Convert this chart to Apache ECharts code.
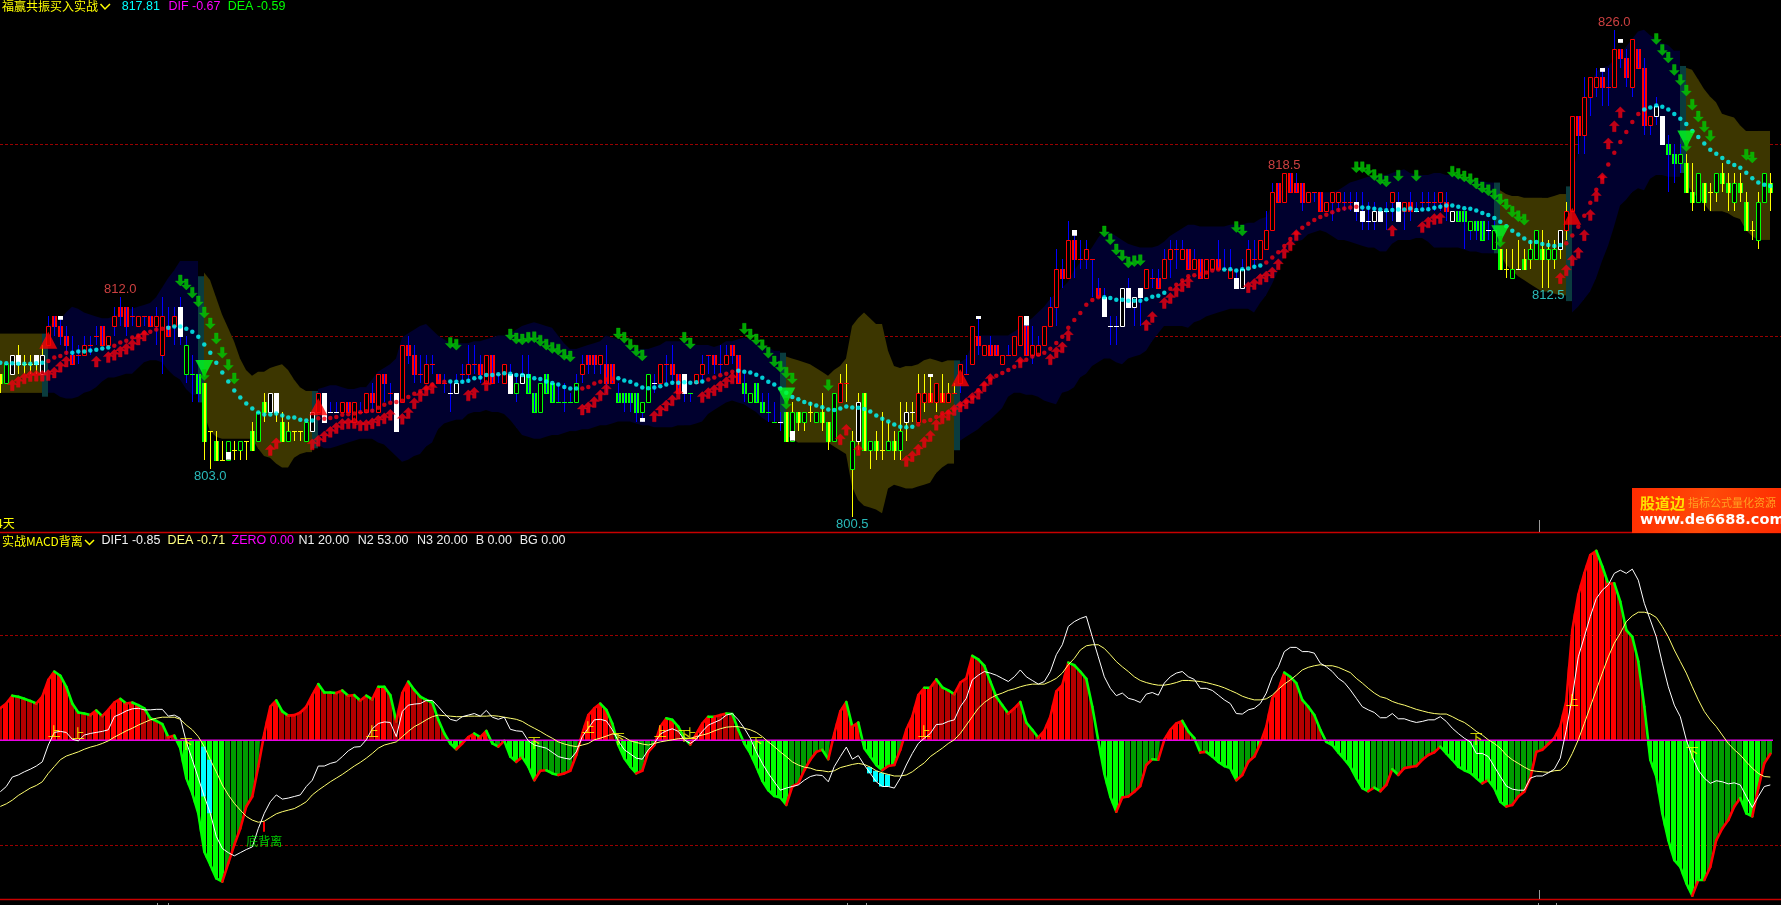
<!DOCTYPE html>
<html><head><meta charset="utf-8">
<style>html,body{margin:0;padding:0;background:#000;overflow:hidden}#c{width:1781px;height:905px}</style>
<script src="https://cdn.jsdelivr.net/npm/echarts@6/dist/echarts.min.js"></script>
</head><body><div id="c"></div>
<script>
const bodyTop=[808,808.5,809,809,808.5,808.5,809,809,810.5,811,
810.5,810,809,809,809.5,809.5,810,810.5,810,811,
811.5,811.5,811,811,811,811,811,811,810.5,811,
811.5,809.5,808,808,807.5,805,804.5,803.5,804.5,804,
804.5,804.5,805,806,806.5,807,807,805.5,805,805,
805,805.5,806,807,807,806,806,806.5,806.5,806.5,
806,807,807,808,808,807,807,809.5,809.5,809,
808,808.5,808.5,808,807.5,807,807.5,808,808.5,808.5,
808.5,809,809,808,808.5,808,807.5,808,808,807,
807.5,808,807.5,806.5,806.5,806.5,807.5,808.5,809,809,
809,808.5,808.5,807,807,807,807,806.5,808,807.5,
808.5,808.5,808.5,808,808,807,808,808.5,809,809,
808.5,809,809.5,809,807.5,807,807.5,806.5,806,805.5,
805.5,806,806,806,806,806,806,806,805.5,807,
807.5,807.5,804.5,806.5,807,804.5,804.5,804,804.5,804.5,
805,806,806,807,807,807,807.5,807,807,807,
808.5,808,810.5,810,809.5,809.5,809.5,809,809,810,
811,810.5,809.5,809.5,810.5,811.5,813.5,813.5,815,815,
814,814.5,814,812.5,812,810.5,810.5,812.5,812.5,812,
812.5,813.5,813,813,814,814.5,814.5,814.5,814.5,814,
814,814,814,814,813.5,813.5,813,813.5,814.5,814,
815,815.5,817.5,818,818.5,818.5,818,818,817.5,817.5,
817.5,817,817.5,817.5,817,817,817,816.5,816,816.5,
816.5,816.5,817.5,817,817,817,816.5,817,817,817,
817.5,817,816.5,816.5,816.5,816,816,816,815.5,815.5,
814.5,813.5,813.5,813.5,814,814.5,815.5,814.5,814.5,814.5,
815.5,816.5,821.5,821.5,822.5,823.5,823.5,823.5,823,825,
825,824.5,825.5,825,824,821.5,822,821.5,820,819.5,
819.5,819,817.5,818.5,818,817.5,818.5,818.5,818,818,
818,817,815.5,817,818.5,818];
const bodyBottom=[807.5,807.5,808,808.5,808.5,808.5,808.5,808,809.5,810.5,
810,809.5,808.5,809,809,809.5,810,809.5,809.5,810.5,
811,810.5,811,810.5,811,810.5,810.5,809,810,810.5,
810,808,808,807,804.5,805,803.5,803.5,803.5,804,
804,804.5,804,804.5,806,806,806,804.5,804.5,805,
805,804.5,805,806,805.5,806,806,806,806,805.5,
806,806,806.5,806,807.5,807,805,806.5,809,808,
808,807.5,808.5,807.5,807.5,807,807,808,808,808.5,
808,807.5,807.5,808,807.5,807,807,807.5,807,806,
806,807,806.5,806.5,806.5,806.5,806.5,808,808.5,808.5,
808.5,807.5,807.5,806.5,806.5,806.5,806,806,806.5,807.5,
807.5,808.5,808,807,807,807,807.5,808,809,808.5,
808.5,808.5,809,807.5,807,806.5,806.5,806,806,805.5,
805.5,804.5,804.5,805.5,805.5,806,805.5,805.5,804.5,804.5,
806.5,807.5,803,804.5,804,804,804,804,804,804,
804,805.5,806,805.5,806.5,806.5,806.5,806.5,806.5,807,
807.5,808,808.5,809.5,809,809,809,808.5,809,809,
809.5,809,809,809,809.5,810.5,811.5,813,813,814,
814,814,814,812,811,810.5,810.5,810.5,811.5,811.5,
812,812.5,813,812.5,813,814,814.5,814,813.5,813.5,
813,813,813.5,813.5,813.5,813,812.5,812.5,813.5,814,
814,814.5,815.5,817,817,817.5,817.5,817,817,817.5,
816.5,816.5,817,817,817,817,816.5,816,816,816,
816,816.5,817,816,816.5,816.5,816.5,817,817,817,
817,816.5,816,816,816,815.5,815.5,815,815.5,814.5,
813.5,813.5,813,813.5,813.5,814,814,814,814,814,
814.5,815.5,816.5,820.5,820.5,822.5,823,823,823,823,
824.5,823.5,823,824,821,821,821.5,820,819.5,819,
819,817.5,817,817,817,817.5,817.5,818,817.5,817,
817.5,815.5,815.5,815,817,817.5];
const wickHigh=[808,808.5,809,809.5,809,809,809,809.5,811,811,
811,810.5,810,809.5,810,810,810.5,810.5,810,811.5,
812,811.5,811.5,811,811,811,811.5,812,811.5,811.5,
812,810,809,808,807.5,805,805,804.5,804.5,804.5,
804.5,804.5,805.5,806,807,807,807,806,805.5,805,
805,805.5,806,807,807,806.5,806.5,806.5,806.5,806.5,
806.5,807,807.5,808,808,807.5,807,809.5,810,809.5,
809,809,809,808,808,807.5,808,808.5,809.5,809.5,
809,809,809,808,808.5,808.5,808,809,809,807,
807.5,808,807.5,807.5,807.5,807,808,809,809,809,
809,809.5,808.5,807.5,807,807,807,806.5,808,808,
808.5,809,809.5,808,808,807,808,809,809,809,
809.5,809.5,809.5,809,808,807,807.5,807,807,806.5,
806,806,806.5,806,806,806.5,806,807,805.5,807,
808,808.5,805,807,807,804.5,805,806,805.5,805,
806.5,806.5,806.5,808,808,808,807.5,808,807.5,807.5,
808.5,809,810.5,811,809.5,810,809.5,809,809.5,810,
811,811,810.5,810,810.5,812,814.5,814,816,815.5,
815,815,814,813,812.5,811,811,812.5,813,812,
812.5,813.5,813.5,813.5,814.5,815,815,815,814.5,814.5,
814,814,814,815,814.5,814.5,813.5,814,815,815,
815,816.5,818,818,818.5,818.5,818.5,818,817.5,817.5,
817.5,817,817.5,817.5,817.5,817.5,817.5,817.5,817,817,
816.5,817,817.5,817.5,817,817.5,817,817.5,817.5,817.5,
817.5,817.5,816.5,816.5,816.5,816,816,816,816,816,
814.5,814.5,814.5,815,814.5,815,815.5,815.5,815,815,
815.5,817,821.5,821.5,823.5,823.5,824,824,824,826,
825,825,825.5,825,824.5,821.5,822.5,821.5,820.5,820,
820,819.5,819,818.5,818,818,818.5,819,818.5,818.5,
818.5,817.5,816,817.5,818.5,818.5];
const wickLow=[807,807.5,808,808,808,808,808,808,809.5,810,
809.5,809,808.5,808.5,809,809,809.5,809.5,809.5,810,
810.5,810,810.5,810.5,810.5,810.5,809.5,808,810,809.5,
809.5,807.5,806.5,806.5,803.5,803,803.5,803.5,803.5,803.5,
803.5,803.5,804,804.5,805.5,806,805.5,804.5,804.5,804.5,
804.5,804.5,805,806,805.5,806,806,806,806,805.5,
806,806,806,806,806.5,806.5,805,806.5,808.5,807.5,
807.5,807.5,808,807.5,807,806,807,807.5,807.5,808,
807.5,807.5,807.5,807.5,807.5,807,806.5,807.5,807,806,
806,807,806.5,806.5,806,806.5,806.5,807.5,808,808,
808,807,807.5,806.5,806,806,805.5,805.5,806.5,807,
807.5,807.5,807.5,807,806.5,806.5,807.5,807.5,808,808,
808,808.5,808.5,807.5,806.5,806.5,806.5,806,805.5,805.5,
805,804.5,804.5,805,805,805.5,805.5,805,804,804.5,
806.5,806.5,800.5,804,804,803,803.5,803.5,804.5,803.5,
803.5,804.5,805.5,805.5,806,806.5,806,806.5,806.5,807,
807,808,808.5,809,809,809,809,808.5,809,809,
809.5,809,808.5,809,809.5,810.5,810.5,812.5,813,813,
813.5,813.5,812,812,811,809.5,809.5,810.5,811.5,810.5,
810.5,812.5,812.5,812.5,813,813,813.5,814,813.5,813.5,
813,813,813.5,813.5,813.5,813,812.5,812.5,813.5,813.5,
814,814.5,815.5,817,817,817.5,817.5,816.5,817,817,
816.5,816.5,816,816.5,816.5,816.5,816,815.5,815.5,815.5,
816,815.5,816,816,815.5,816,816.5,816.5,816.5,816.5,
816.5,816,816,816,814.5,815,815,815,815,814.5,
813.5,813,813,813.5,813.5,813.5,814,812.5,812.5,813.5,
814,815,816.5,819.5,819.5,821.5,822.5,822,822,823,
824,823,822.5,824,820.5,820.5,821,820,817.5,818,
818.5,817.5,816.5,817,816.5,816.5,817,817.5,816.5,816.5,
817,815.5,815,814.5,817,816.5];
const bodyKinds="GgwWyyWwrR"+"RRRrrrrRrr"+"RRrrrRrrRr"+"WggGGyGygy"+"gyGgGwWGgy"+"ygwrWwwrRr"+"rrRrRrWrRR"+"rrrRrwwrrr"+"RrRrrWgwGG"+"gGGggggrRR"+
"rRRGGGGggw"+"rrRRWgrrrR"+"rrRRGgGGgg"+"wGgGgygGGg"+"rrgwGgGygG"+"gwwrrRrRrr"+"rrrRrRRrrr"+"rRrrrrrRrR"+"rrrRWwwwWw"+"WrrRrrrrRr"+
"RrrRrrWwrr"+"rrrRrRRRrr"+"RrrrrrWWww"+"WwrWrRwrrr"+"rRwGGgGGwg"+"GygwGggGgg"+"wrrRrrrRrr"+"RRrRRrwWGG"+"gGGgGygGGg"+"GGyggG";
const yellowWickRuns=[[0,7],[34,52],[131,159],[250,261],[281,295]];
const whiteMarks=[[10,811,810.8],[38,803.9,803.5],[107,805.7,805.5],[132,805,804.5],[155,808,807.85],[163,811,810.85],[171,811,810.5],[179,815.5,815.2],[267,824,823.8],[270,825.5,825.3]];

const bandUpper=[810.1,810.1,810.1,810.1,810.1,810.1,810.1,810.1,810.5,810.7,
810.8,811.2,811.5,811.4,811.2,811.1,811,810.9,810.9,811,
811.2,811.4,811.4,811.5,811.6,811.7,812,812.5,813,813.4,
813.9,813.9,813.9,813.1,813.3,812.9,812,811.1,810.4,809.7,
808.8,808.2,807.9,808.1,808.1,808.3,808.4,808.5,808.2,807.7,
807.3,807.1,807.1,807.2,807.3,807.4,807.4,807.3,807.2,807.2,
807.3,807.3,807.7,808.1,808.3,808.5,808.8,809.9,810.1,810.3,
810.5,810.6,810.3,810,809.8,809.6,809.6,809.6,809.6,809.7,
809.7,809.8,809.9,810,810,810.1,810.3,810.5,810.6,810.7,
810.6,810.5,810.4,810,809.6,809.3,809.3,809.4,809.5,809.6,
809.7,810,809.9,809.8,809.7,809.4,809.3,809.3,809.3,809.4,
809.5,809.7,809.7,809.7,809.7,809.6,809.5,809.5,809.5,809.4,
809.5,809.7,809.7,809.8,809.9,809.8,809.7,809.5,809.4,809.2,
809.1,808.9,808.8,808.7,808.6,808.5,808.3,808.1,807.9,808.2,
808.4,808.8,810.5,810.9,811.2,810.9,810.6,810.6,809.2,808.4,
808.3,808.4,808.4,808.5,808.7,808.8,808.7,808.6,808.7,808.7,
808.6,808.8,809.5,810,810,810,810,810,810,810.2,
810.4,810.7,810.9,811.2,811.5,811.9,812.2,812.5,812.8,813.4,
813.8,814.2,814.6,815.1,815.5,815.4,815.2,815,814.8,814.7,
814.6,814.6,814.6,814.7,814.9,815.2,815.4,815.6,815.8,815.8,
815.7,815.7,815.7,815.7,815.7,815.8,815.8,815.8,815.9,815.9,
816.1,816.2,816.8,817.6,817.6,817.6,817.6,817.6,817.5,817.5,
817.5,817.5,817.5,817.6,817.8,818,818.1,818.2,818.3,818.3,
818.4,818.4,818.5,818.6,818.7,818.5,818.4,818.4,818.4,818.5,
818.5,818.4,818.4,818.3,818.2,818.2,818.1,818.1,818,818,
817.6,817.4,817.3,817.3,817.2,817.2,817.2,817.2,817.2,817.3,
817.4,817.8,818.5,819.6,821.5,823,823.8,824,824.1,824.4,
824.7,825.1,825.5,825.9,826,825.7,825.5,825.3,825.2,824.9,
824.1,824,823.9,823.4,822.9,822.5,822.2,821.6,821.5,821.4,
821,820.7,820.7,820.7,820.7];
const bandLower=[807,807,807,807,807,807,807,806.8,807,807,
806.8,806.7,806.7,806.8,807,807.1,807.3,807.6,807.8,807.8,
807.9,808,808,808.3,808.6,808.7,808.7,808.6,808.2,807.9,
807.7,807.2,806.9,806.5,805.9,805,804.7,804.6,804.6,804.6,
804.6,804.6,804.6,804.1,803.7,803.6,803.3,803.1,803.1,803.6,
803.8,803.9,804.1,804.3,804.1,804.1,804.2,804.3,804.4,804.5,
804.6,804.6,804.6,804.4,804.3,804,803.7,803.4,803.5,803.7,
803.8,804.2,804.4,805.1,805.4,805.5,805.6,805.6,805.9,806,
806,806.1,806,806,805.9,805.6,805.2,804.8,804.7,804.6,
804.6,804.7,804.8,804.8,804.9,805,805,805.1,805.1,805.2,
805.3,805.3,805.4,805.5,805.5,805.5,805.4,805.3,805.3,805.2,
805.2,805.2,805.2,805.3,805.3,805.3,805.4,805.5,805.9,806.1,
806.3,806.5,806.6,806.5,806.4,806.2,806,805.7,805.5,805.5,
805.4,804.8,804.6,804.4,804.4,804.4,804.4,804.4,804.4,804.2,
804,803.8,802.1,801.4,801.1,801,800.9,800.7,802,802.2,
802.1,802,802,802.1,802.2,802.3,802.8,803.1,803.3,804,
804.5,804.7,804.9,805.1,805.4,805.6,805.9,806.2,806.8,807,
807,806.9,806.9,806.8,806.6,806.5,806.4,807,807.1,807.3,
807.8,808,808.4,808.6,808.8,808.8,808.6,808.5,808.8,808.9,
809,809.2,809.7,810.1,810.5,810.5,810.5,810.5,810.4,810.7,
810.8,811,811.1,811.2,811.3,811.4,811.4,811.4,811.4,811.2,
811.7,812.1,812.7,813.4,814.1,814.6,814.9,815,815.3,815.4,
815.5,815.4,815.2,815,815,814.9,814.8,814.7,814.6,814.6,
814.4,814.4,814.8,815,815,815,815.1,815.1,814.9,814.6,
814.6,814.6,814.6,814.6,814.5,814.4,814.4,814.3,814.3,814.3,
814.3,813.7,813.4,813.1,812.9,812.7,812.5,812.3,812.3,812.2,
812.1,811.8,811.2,811.5,811.9,812.3,813,813.9,814.7,815.7,
816.8,817.1,817.5,817.7,817.6,818.2,818.4,818.4,818.3,818.3,
818.5,818,817.5,817.2,816.9,816.5,816.5,816.5,816.4,816.2,
816.1,815.5,815.2,815,815];
const oliveRuns=[[0,6],[34,51],[131,158],[250,260],[281,295]];
const tealBars=[7,33,52,130,159,249,261,280];

const midLine=[808.58,808.55,808.55,808.52,808.52,808.52,808.55,808.58,808.67,808.85,
808.93,809.1,809.1,809.16,809.16,809.21,809.26,809.32,809.37,809.47,
809.63,809.73,809.89,810,810.15,810.2,810.31,810.36,810.41,810.47,
810.47,810.36,810.2,809.94,809.53,809.1,808.58,808.06,807.59,807.12,
806.76,806.44,806.18,805.97,805.87,805.87,805.92,805.81,805.71,805.71,
805.6,805.55,805.55,805.67,805.64,805.69,805.74,805.85,805.88,805.92,
805.98,806.04,806.06,806.22,806.38,806.48,806.52,806.59,806.78,806.96,
807.08,807.23,807.44,807.58,807.58,807.6,807.58,807.58,807.63,807.76,
807.81,807.93,807.93,807.98,808.02,808,807.93,807.93,807.88,807.76,
807.72,807.6,807.51,807.44,807.31,807.23,807.23,807.23,807.31,807.49,
807.58,807.7,807.74,807.76,807.65,807.58,807.44,807.28,807.24,807.28,
807.35,807.44,807.53,807.53,807.55,807.53,807.55,807.6,807.7,807.81,
807.92,808,808.11,808.16,808.11,808.06,807.95,807.79,807.58,807.44,
807.23,807,806.78,806.66,806.52,806.43,806.34,806.25,806.13,806.11,
806.18,806.29,806.24,806.22,806.15,806.02,805.81,805.64,805.5,805.35,
805.23,805.2,805.23,805.34,805.51,805.58,805.74,805.94,805.99,806.13,
806.34,806.52,806.75,807.14,807.44,807.7,807.9,808.04,808.2,808.36,
808.64,808.73,808.9,809,809.1,809.31,809.61,809.93,810.41,810.81,
811.18,811.61,811.86,812,812,811.96,811.87,811.87,811.82,811.82,
811.82,811.9,812.03,812.08,812.24,812.44,812.65,812.88,813.1,813.15,
813.2,813.3,813.4,813.45,813.45,813.46,813.4,813.46,813.5,813.6,
813.66,813.82,814.08,814.35,814.68,815.05,815.35,815.64,815.85,816.04,
816.2,816.32,816.45,816.57,816.64,816.7,816.73,816.7,816.68,816.63,
816.59,816.55,816.57,816.59,816.59,816.64,816.57,816.59,816.61,816.68,
816.73,816.8,816.8,816.73,816.66,816.63,816.54,816.41,816.3,816.15,
815.95,815.71,815.48,815.28,815.07,814.89,814.89,814.79,814.73,814.68,
814.73,814.82,815.23,815.69,816.27,816.94,817.63,818.27,818.94,819.56,
820.12,820.65,821.17,821.59,821.82,821.93,822.03,821.96,821.82,821.59,
821.34,821.06,820.7,820.39,820.04,819.72,819.51,819.29,819.08,818.92,
818.78,818.52,818.23,818,817.88,817.82];
const redMidRuns=[[8,11],[19,27],[53,74],[97,102],[118,122],[153,183],[195,203],[211,226],[261,273]];

const upArrows=[[2,807.4],[3,807.58],[4,807.76],[5,807.88],[6,807.9],[7,807.9],[8,807.93],[9,808.07],[10,808.37],[11,808.64],[16,808.64],[18,808.87],[19,808.99],[20,809.17],[21,809.31],[22,809.52],[23,809.79],[24,810],[45,804.01],[46,804.36],[52,804.31],[53,804.49],[54,804.72],[55,804.96],[56,805.16],[57,805.37],[58,805.41],[59,805.42],[60,805.3],[61,805.32],[62,805.41],[63,805.55],[64,805.67],[65,805.85],[67,805.64],[68,805.95],[69,806.46],[70,806.84],[71,807.14],[72,807.26],[78,806.87],[79,807.01],[81,807.4],[97,806.13],[98,806.25],[99,806.52],[100,806.87],[101,807.19],[109,805.78],[110,806.08],[111,806.34],[112,806.61],[113,806.96],[117,806.78],[118,806.99],[119,807.14],[120,807.35],[121,807.56],[122,807.76],[140,804.57],[141,805.07],[143,804.01],[151,803.43],[152,803.69],[153,804.04],[154,804.43],[155,804.75],[156,805.33],[157,805.67],[158,805.85],[159,806.11],[160,806.29],[161,806.46],[162,806.73],[163,806.96],[164,807.35],[165,807.72],[170,808.6],[175,808.76],[176,809.13],[177,809.38],[178,810.02],[191,810.55],[192,810.97],[194,811.7],[195,811.96],[196,812.31],[197,812.58],[198,812.79],[208,812.53],[209,812.7],[210,812.95],[211,813.09],[212,813.3],[213,813.73],[214,814.33],[215,814.72],[216,815.26],[232,815.49],[237,815.67],[238,815.92],[239,816.1],[240,816.15],[260,813],[261,813.41],[262,813.94],[263,814.33],[264,815.25],[265,816.31],[266,817.3],[267,818.23],[268,820.05],[269,820.95],[270,821.68]];
const downArrows=[[30,812.88],[31,812.67],[32,812.24],[33,811.78],[34,811.2],[35,810.63],[36,809.84],[37,809.1],[38,808.46],[39,807.75],[34,807.93],[75,809.61],[76,809.52],[85,810.05],[86,809.84],[87,809.79],[88,809.88],[89,809.91],[90,809.73],[91,809.52],[92,809.35],[93,809.26],[94,808.99],[95,808.9],[103,810.1],[104,809.88],[105,809.52],[106,809.2],[107,808.96],[114,809.88],[115,809.58],[124,810.35],[125,810.05],[126,809.79],[127,809.49],[128,809.1],[129,808.64],[130,808.37],[131,808.05],[132,807.75],[131,806.43],[138,807.4],[184,815.44],[185,815.03],[186,814.5],[187,814.17],[188,813.82],[189,813.89],[190,813.94],[206,815.67],[207,815.49],[226,818.8],[227,818.8],[228,818.66],[229,818.39],[230,818.18],[231,818.06],[233,818.36],[236,818.36],[242,818.57],[243,818.45],[244,818.32],[245,818.18],[246,817.95],[247,817.74],[248,817.6],[249,817.38],[250,817.12],[251,816.85],[252,816.47],[253,816.24],[254,816.06],[250,814.91],[276,825.51],[277,824.93],[278,824.54],[279,823.89],[280,823.36],[281,822.81],[282,822.07],[283,821.45],[284,820.92],[285,820.44],[281,819.91],[291,819.45],[292,819.31]];
const buyTriangles=[[8,809.75],[53,806.27],[160,807.79],[262,816.24]];
const sellTriangles=[[34,808.28],[131,806.84],[250,815.32],[281,820.28]];
const highLabels=[[20,812,'812.0'],[214,818.5,'818.5'],[269,826,'826.0']];
const lowLabels=[[35,803,'803.0'],[142,800.5,'800.5'],[258,812.5,'812.5']];
const priceGuides=[820,810];

const histValues=[0.61,0.70,0.85,0.83,0.79,0.75,0.70,0.83,1.15,1.31,
1.23,1.02,0.70,0.53,0.51,0.48,0.57,0.46,0.58,0.72,
0.79,0.70,0.72,0.67,0.61,0.42,0.37,0.31,0.06,0.09,
-0.15,-0.72,-1.01,-1.39,-2.12,-2.37,-2.63,-2.69,-2.34,-1.99,
-1.68,-1.26,-1.07,-0.50,0.13,0.64,0.76,0.55,0.47,0.48,
0.53,0.64,0.86,1.07,0.91,0.91,0.90,0.95,0.85,0.86,
0.76,0.85,0.78,1.02,1.02,0.86,0.36,0.90,1.12,0.96,
0.83,0.77,0.72,0.39,0.13,-0.06,-0.17,-0.06,0.06,0.13,
0.06,0.18,-0.06,-0.12,-0.01,-0.31,-0.41,-0.32,-0.50,-0.76,
-0.58,-0.57,-0.63,-0.66,-0.63,-0.58,-0.28,0.13,0.48,0.61,
0.70,0.58,0.32,-0.09,-0.34,-0.50,-0.63,-0.58,-0.22,-0.09,
0.26,0.42,0.39,0.26,0.04,-0.08,0.12,0.32,0.45,0.45,
0.48,0.51,0.50,0.20,-0.06,-0.25,-0.50,-0.77,-0.95,-1.06,
-1.09,-1.23,-0.88,-0.82,-0.57,-0.37,-0.22,-0.18,-0.36,0.13,
0.55,0.73,0.26,0.34,-0.15,-0.31,-0.47,-0.57,-0.49,-0.47,
-0.18,0.20,0.45,0.86,1.00,1.00,1.16,1.01,0.95,0.88,
1.10,1.18,1.61,1.54,1.42,1.12,0.83,0.67,0.51,0.61,
0.73,0.34,0.20,0.05,0.18,0.45,0.93,1.05,1.48,1.43,
1.31,1.17,0.64,-0.01,-0.63,-1.07,-1.36,-1.09,-1.07,-0.98,
-0.87,-0.47,-0.36,-0.37,0.01,0.20,0.32,0.37,0.17,0.04,
-0.23,-0.22,-0.31,-0.41,-0.49,-0.53,-0.76,-0.66,-0.41,-0.31,
-0.06,0.26,0.80,0.96,1.29,1.21,1.09,0.77,0.64,0.48,
0.20,-0.03,-0.09,-0.23,-0.36,-0.50,-0.72,-0.91,-0.97,-0.90,
-0.97,-0.85,-0.55,-0.66,-0.53,-0.51,-0.49,-0.37,-0.28,-0.23,
-0.12,-0.25,-0.37,-0.50,-0.57,-0.62,-0.72,-0.82,-0.76,-0.91,
-1.17,-1.26,-1.23,-1.07,-0.98,-0.72,-0.22,-0.18,-0.07,0.04,
0.26,0.75,2.10,2.77,3.18,3.53,3.61,3.31,2.98,2.99,
2.64,2.10,1.97,1.50,0.64,-0.37,-0.69,-1.39,-1.90,-2.28,
-2.41,-2.72,-2.96,-2.66,-2.66,-2.41,-1.90,-1.68,-1.52,-1.26,
-1.10,-1.39,-1.45,-0.91,-0.44,-0.26];
const brightRuns=[[1,2],[7,11],[16,16],[18,23],[30,37],[44,46],[52,53],[63,64],[67,68],[75,81],[85,89],[97,101],[103,106],[110,112],[116,119],[124,131],[139,149],[151,155],[162,162],[174,178],[184,187],[194,197],[202,206],[210,214],[221,228],[241,251],[259,269],[275,284],[291,293]];
const cyanBars=[34,35,145,146,147,148];
const difLine=[-0.98,-0.88,-0.70,-0.66,-0.60,-0.55,-0.49,-0.41,-0.09,0.15,
0.17,0.15,0.02,-0.01,0.10,0.13,0.15,0.17,0.20,0.45,
0.50,0.56,0.60,0.61,0.58,0.58,0.59,0.59,0.46,0.48,
0.42,-0.03,-0.37,-0.72,-1.07,-1.39,-1.83,-2.06,-2.14,-2.20,
-2.14,-2.08,-2.03,-1.68,-1.39,-1.17,-1.04,-1.12,-1.10,-1.07,
-1.04,-0.88,-0.76,-0.49,-0.49,-0.44,-0.41,-0.31,-0.20,-0.13,
-0.12,0.01,0.22,0.32,0.35,0.34,0.07,0.55,0.67,0.69,
0.70,0.76,0.76,0.64,0.51,0.40,0.37,0.45,0.48,0.51,
0.46,0.57,0.44,0.40,0.44,0.21,0.18,0.17,-0.01,-0.09,
-0.12,-0.15,-0.23,-0.31,-0.34,-0.36,-0.22,0.07,0.23,0.39,
0.40,0.37,0.20,-0.01,-0.18,-0.26,-0.34,-0.36,-0.18,-0.06,
0.12,0.18,0.22,0.17,0.01,-0.06,0.02,0.17,0.29,0.34,
0.39,0.48,0.51,0.39,0.23,0.04,-0.22,-0.44,-0.63,-0.79,
-0.95,-0.91,-0.88,-0.85,-0.76,-0.69,-0.66,-0.67,-0.79,-0.50,
-0.31,-0.13,-0.36,-0.29,-0.47,-0.63,-0.79,-0.88,-0.88,-0.91,
-0.72,-0.47,-0.25,-0.06,0.04,0.13,0.30,0.31,0.36,0.39,
0.64,0.80,1.15,1.24,1.31,1.28,1.24,1.18,1.12,1.21,
1.34,1.21,1.14,1.07,1.12,1.31,1.63,1.82,2.17,2.26,
2.32,2.36,1.97,1.59,1.21,0.99,0.85,0.90,0.80,0.77,
0.72,0.88,0.91,0.86,1.09,1.21,1.28,1.31,1.21,1.16,
0.99,0.99,0.95,0.86,0.77,0.70,0.51,0.50,0.58,0.61,
0.70,0.90,1.21,1.40,1.69,1.77,1.77,1.69,1.69,1.66,
1.47,1.40,1.31,1.18,1.10,0.96,0.80,0.64,0.58,0.53,
0.43,0.43,0.51,0.41,0.41,0.37,0.34,0.36,0.39,0.39,
0.45,0.36,0.23,0.13,0.04,-0.03,-0.25,-0.25,-0.31,-0.50,
-0.69,-0.87,-0.93,-0.95,-0.95,-0.72,-0.68,-0.68,-0.62,-0.55,
-0.34,0.20,0.83,1.59,1.97,2.36,2.70,2.86,2.96,3.18,
3.24,3.18,3.26,3.05,2.61,2.29,1.97,1.47,1.02,0.67,
0.45,0.01,-0.31,-0.57,-0.72,-0.82,-0.77,-0.79,-0.83,-0.81,
-0.85,-1.07,-1.28,-1.07,-0.88,-0.85];
const deaLine=[-1.26,-1.21,-1.14,-1.05,-0.98,-0.91,-0.86,-0.79,-0.63,-0.50,
-0.37,-0.30,-0.26,-0.22,-0.17,-0.13,-0.10,-0.06,-0.01,0.06,
0.12,0.18,0.23,0.29,0.34,0.39,0.42,0.44,0.44,0.44,
0.40,0.29,0.20,0.07,-0.12,-0.37,-0.60,-0.85,-1.04,-1.20,
-1.33,-1.45,-1.52,-1.56,-1.54,-1.47,-1.40,-1.36,-1.33,-1.30,
-1.24,-1.17,-1.04,-0.95,-0.87,-0.79,-0.72,-0.65,-0.57,-0.49,
-0.42,-0.34,-0.25,-0.15,-0.09,-0.06,-0.03,0.07,0.17,0.26,
0.32,0.39,0.45,0.48,0.47,0.46,0.45,0.45,0.46,0.46,
0.46,0.46,0.47,0.46,0.44,0.42,0.40,0.36,0.29,0.23,
0.17,0.10,0.04,-0.03,-0.07,-0.10,-0.12,-0.09,-0.06,0.01,
0.04,0.08,0.12,0.10,0.06,-0.01,-0.04,-0.07,-0.09,-0.06,
-0.03,-0.01,0.01,0.03,0.04,0.04,0.07,0.10,0.13,0.18,
0.22,0.25,0.26,0.26,0.23,0.20,0.15,0.07,-0.03,-0.12,
-0.22,-0.31,-0.41,-0.47,-0.51,-0.53,-0.57,-0.58,-0.60,-0.58,
-0.52,-0.49,-0.46,-0.44,-0.46,-0.51,-0.58,-0.62,-0.65,-0.68,
-0.68,-0.66,-0.60,-0.51,-0.43,-0.31,-0.23,-0.15,-0.06,0.01,
0.13,0.29,0.45,0.61,0.72,0.80,0.86,0.90,0.95,0.98,
1.02,1.05,1.07,1.07,1.07,1.12,1.18,1.28,1.44,1.56,
1.72,1.80,1.82,1.82,1.75,1.63,1.50,1.40,1.31,1.21,
1.14,1.10,1.07,1.05,1.05,1.07,1.10,1.14,1.14,1.13,
1.12,1.10,1.07,1.04,1.00,0.95,0.90,0.84,0.80,0.77,
0.77,0.79,0.86,0.97,1.07,1.15,1.24,1.34,1.39,1.42,
1.44,1.42,1.42,1.39,1.34,1.29,1.18,1.09,0.99,0.90,
0.83,0.80,0.74,0.70,0.67,0.63,0.59,0.56,0.53,0.51,
0.50,0.50,0.45,0.39,0.34,0.26,0.17,0.10,0.01,-0.06,
-0.15,-0.28,-0.37,-0.44,-0.51,-0.57,-0.59,-0.60,-0.61,-0.58,
-0.57,-0.47,-0.25,0.01,0.32,0.64,0.96,1.28,1.59,1.85,
2.04,2.26,2.37,2.44,2.44,2.41,2.34,2.17,1.97,1.72,
1.50,1.28,1.02,0.77,0.55,0.39,0.26,0.10,-0.06,-0.18,
-0.28,-0.41,-0.53,-0.63,-0.69,-0.70];
const macdGuides=[2,-2];
const upMarks=[[9,0.17],[13,0.13],[62,0.17],[98,0.26],[110,0.17],[115,0.13],[154,0.17],[262,0.77]];
const downMarks=[[31,-0.06],[89,-0.03],[103,0.04],[114,0.10],[126,-0.03],[246,0.04],[282,-0.22]];
const divergenceNote=[[44,-1.93,'底背离']];
const divergenceStick=[[44,-1.55,-1.74]];

const N=298;
const categories=Array.from({length:N},(_,i)=>String(i));
const inRuns=(runs,i)=>runs.some(r=>i>=r[0]&&i<=r[1]);
const FONT='"Liberation Sans",Arial,sans-serif', CJK='"Noto Sans CJK SC",sans-serif';
const idx=a=>a.map((_,i)=>[i,0]);
function cust(xy,z,data,renderItem){return {type:'custom',xAxisIndex:xy,yAxisIndex:xy,z,silent:true,animation:false,data,renderItem};}

function guide(xy,levels,z){return cust(xy,z,levels.map(v=>[0,v]),(p,api)=>{
  const a=api.coord([0,api.value(1)]);const y=Math.round(a[1])+.5;
  return {type:'line',shape:{x1:0,y1:y,x2:1781,y2:y},style:{stroke:'#9a0000',lineWidth:1,lineDash:[3,2]}};
});}
const zoneOf=i=>tealBars.includes(i)?0:inRuns(oliveRuns,i)?1:2;
const ZONE=['#0a3c3e','#3c3600','#00002e'];
const band=cust(0,2,idx(bandUpper),(p,api)=>{
  const i=p.dataIndex,z=zoneOf(i),same=i<bandUpper.length-1&&zoneOf(i+1)===z&&z!==0;
  const t=api.coord([i,bandUpper[i]]),b=api.coord([i,bandLower[i]]);
  const t2=same?api.coord([i+1,bandUpper[i+1]]):t,b2=same?api.coord([i+1,bandLower[i+1]]):b;
  const x=Math.round(t[0]);
  return {type:'polygon',shape:{points:[[x,t[1]],[x+6,t2[1]],[x+6,b2[1]],[x,b[1]]]},style:{fill:ZONE[z]}};
});
const BODY={r:'#ff0000',R:'#ff0000',w:'#ffffff',W:'#ffffff',g:'#00ff00',G:'#00ff00',y:'#ffff00'};
const candles=cust(0,3,idx(bodyTop),(p,api)=>{
  const i=p.dataIndex,k=bodyKinds[i];
  const top=api.coord([i,bodyTop[i]]),bot=api.coord([i,bodyBottom[i]]);
  const hi=api.coord([i,wickHigh[i]]),lo=api.coord([i,wickLow[i]]);
  const cx=Math.round(top[0]),yt=Math.round(top[1]),yb=Math.round(bot[1]);
  const isY=inRuns(yellowWickRuns,i),wc=isY?'#ffff00':'#0000ff',c=BODY[k];
  const wick={type:'rect',shape:{x:cx,y:Math.round(hi[1]),width:1,height:Math.max(1,Math.round(lo[1])-Math.round(hi[1]))},style:{fill:wc}};
  const ch=[];
  if(yt===yb){ch.push(wick);ch.push({type:'rect',shape:{x:cx-2,y:yt,width:5,height:1},style:{fill:c}});}
  else if(k==='r'||k==='w'||k==='g'){ch.push(wick);
    ch.push({type:'rect',shape:{x:cx-1.5,y:yt+.5,width:4,height:yb-yt},style:{fill:'#000',stroke:c,lineWidth:1}});}
  else {ch.push({type:'rect',shape:{x:cx-2,y:yt,width:5,height:yb-yt+1},style:{fill:c}});
    if(k==='G'&&isY)ch.push({type:'rect',shape:{x:cx,y:yt,width:2,height:yb-yt+1},style:{fill:'#ffff00'}});
    if(k==='R'||k==='G')ch.push(wick); else {ch.push(wick);ch.push({type:'rect',shape:{x:cx-2,y:yt,width:5,height:yb-yt+1},style:{fill:c}});}}
  return {type:'group',children:ch};
});
const marks=cust(0,3,whiteMarks.map(m=>[m[0],m[1]]),(p,api)=>{
  const m=whiteMarks[p.dataIndex],a=api.coord([m[0],m[1]]),b=api.coord([m[0],m[2]]);
  return {type:'rect',shape:{x:Math.round(a[0])-2,y:Math.round(a[1]),width:5,height:Math.max(3,b[1]-a[1])},style:{fill:'#fff'}};
});
function dots(name,color,filter){return {type:'scatter',name,xAxisIndex:0,yAxisIndex:0,z:4,silent:true,animation:false,symbol:'circle',symbolSize:4.5,itemStyle:{color},
  data:midLine.map((v,i)=>filter(i)?[i,v]:null).filter(Boolean)};}
const UP='path://M5 0 L10 5 L6.8 5 L6.8 11 L3.2 11 L3.2 5 L0 5 Z', DN='path://M3.2 0 L6.8 0 L6.8 6 L10 6 L5 11 L0 6 L3.2 6 Z';
function arrows(data,sym,color){return {type:'scatter',xAxisIndex:0,yAxisIndex:0,z:5,silent:true,animation:false,symbol:sym,symbolSize:[10,11],itemStyle:{color,borderColor:color,borderWidth:.4},data};}
function tris(data,sym,color,z){return {type:'scatter',xAxisIndex:0,yAxisIndex:0,z,silent:true,animation:false,symbol:sym,symbolSize:[18,17],itemStyle:{color},data};}
function textSeries(xy,data,color,pos,dist,font,size){return {type:'scatter',xAxisIndex:xy,yAxisIndex:xy,z:7,silent:true,animation:false,symbolSize:0,
  data:data.map(d=>({value:[d[0],d[1]],label:{show:true,formatter:d[2],position:pos,distance:dist,color,fontFamily:font,fontSize:size}}))};}

const histBars=cust(1,2,idx(histValues),(p,api)=>{
  const i=p.dataIndex,v=histValues[i],pv=i?histValues[i-1]:v,nv=i<histValues.length-1?histValues[i+1]:v;
  const mid=(a,b)=>a*b<0?0:(a+b)/2;
  const c=api.coord([i,v]),z0=api.coord([i,0])[1],cx=Math.round(c[0]);
  const yl=api.coord([i,mid(pv,v)])[1],yr=api.coord([i,mid(v,nv)])[1];
  const b=inRuns(brightRuns,i);
  const fill=v>=0?(b?'#ff0000':'#b40000'):(b?'#00ff00':'#009c00');
  return {type:'polygon',shape:{points:[[cx-3,z0],[cx-3,yl],[cx,c[1]],[cx+2,yr],[cx+2,z0]]},style:{fill}};
});
const histEdge=cust(1,3,idx(histValues).slice(0,-1),(p,api)=>{
  const i=p.dataIndex,a=api.coord([i,histValues[i]]),b=api.coord([i+1,histValues[i+1]]);
  return {type:'line',shape:{x1:a[0],y1:a[1],x2:b[0],y2:b[1]},style:{stroke:histValues[i+1]>histValues[i]?'#ff0000':'#00ff00',lineWidth:2.6,lineCap:'round'}};
});
const cyanFill=cust(1,3,cyanBars.map(i=>[i,0]),(p,api)=>{
  const i=cyanBars[p.dataIndex],a=api.coord([i,deaLine[i]]),b=api.coord([i,difLine[i]]),cx=Math.round(a[0]);
  return {type:'rect',shape:{x:cx-3,y:a[1],width:5,height:b[1]-a[1]},style:{fill:'#00ffff'}};
});
const zeroLine=cust(1,4,[[0,0]],(p,api)=>{const y=api.coord([0,0])[1];
  return {type:'line',shape:{x1:0,y1:y,x2:1773,y2:y},style:{stroke:'#e800e8',lineWidth:1.6}};});
const stick=cust(1,5,divergenceStick.map(s=>[s[0],s[1]]),(p,api)=>{
  const s=divergenceStick[p.dataIndex],a=api.coord([s[0],s[1]]),b=api.coord([s[0],s[2]]);
  return {type:'rect',shape:{x:Math.round(a[0])-1,y:a[1],width:2,height:b[1]-a[1]},style:{fill:'#ff0000'}};
});
function lineS(data,color,z){return {type:'line',xAxisIndex:1,yAxisIndex:1,z,silent:true,animation:false,showSymbol:false,lineStyle:{color,width:1},data:data.map((v,i)=>[i,v])};}

const txt=(text,x,y,fill,size,font,extra)=>({type:'text',silent:true,z:50,style:Object.assign({text,x,y,fill,font:`${size}px ${font||FONT}`,verticalAlign:'middle',textAlign:'left'},extra||{})});
const chev=(pts)=>({type:'polyline',silent:true,z:50,shape:{points:pts},style:{stroke:'#ffff00',lineWidth:1.5,fill:null}});
const vline=(x,y1,y2,c)=>({type:'line',silent:true,z:50,shape:{x1:x,y1,x2:x,y2},style:{stroke:c||'#9a9a9a',lineWidth:1}});
const graphic=[
  {type:'line',silent:true,z:40,shape:{x1:0,y1:532.5,x2:1781,y2:532.5},style:{stroke:'#c80000',lineWidth:1.5}},
  {type:'line',silent:true,z:40,shape:{x1:0,y1:899.5,x2:1781,y2:899.5},style:{stroke:'#c80000',lineWidth:1.5}},
  vline(1539.5,520,532),vline(1539.5,890,899),
  vline(157.5,903,905),vline(168.5,903,905),vline(847.5,903,905),vline(866.5,903,905),vline(1538.5,903,905),vline(1556.5,903,905),
  txt('福赢共振买入实战',2,6.5,'#ffff00',12,CJK),chev([[100.5,4],[105,9],[110,4]]),
  txt('817.81',121.7,6.5,'#00ffff',12.5),txt('DIF -0.67',168.4,6.5,'#ff00ff',12.5),txt('DEA -0.59',227.7,6.5,'#00ff00',12.5),
  txt('4天',-4,523,'#ffff00',12,CJK),
  txt('实战MACD背离',2,541,'#ffff00',12,CJK),chev([[85,540],[89.5,544.5],[94,540]]),
  txt('DIF1 -0.85',101.4,541,'#f2f2f2',12.5),txt('DEA -0.71',167.6,541,'#ffff80',12.5),txt('ZERO 0.00',231.5,541,'#ff00ff',12.5),
  txt('N1 20.00',298.5,541,'#eeeeee',12.5),txt('N2 53.00',357.8,541,'#eeeeee',12.5),txt('N3 20.00',417,541,'#eeeeee',12.5),
  txt('B 0.00',475.7,541,'#eeeeee',12.5),txt('BG 0.00',519.7,541,'#eeeeee',12.5),
  {type:'rect',silent:true,z:60,shape:{x:1632,y:488,width:149,height:45},style:{fill:{type:'linear',x:0,y:0,x2:1,y2:1,colorStops:[{offset:0,color:'#ff2c00'},{offset:.5,color:'#ff4a08'},{offset:1,color:'#ff2a00'}]}}},
  Object.assign(txt('股道边',1640,503,'#ffe000',15,CJK,{font:`bold 15px ${CJK}`}),{z:61}),
  Object.assign(txt('指标公式量化资源',1688,503,'#ffa020',11,CJK),{z:61}),
  Object.assign(txt('www.de6688.com',1640,520,'#ffffff',15,'"DejaVu Sans"',{font:'bold 14.5px "DejaVu Sans"'}),{z:61})
];

const option={
  backgroundColor:'#000',animation:false,
  grid:[{left:-2.7,top:0,width:6*N,height:533,outerBoundsMode:'none'},{left:-2.7,top:532.5,width:6*N,height:367,outerBoundsMode:'none'}],
  xAxis:[{type:'category',gridIndex:0,data:categories,show:false},{type:'category',gridIndex:1,data:categories,show:false}],
  yAxis:[{type:'value',gridIndex:0,min:799.67,max:827.55,show:false,splitLine:{show:false}},
         {type:'value',gridIndex:1,min:-3.032,max:3.958,show:false,splitLine:{show:false}}],
  graphic,
  series:[
    guide(0,priceGuides,1),band,candles,marks,
    dots('mid-cyan','#00ffff',i=>!inRuns(redMidRuns,i)),
    dots('mid-red','#f00010',i=>inRuns(redMidRuns,i)),
    tris(buyTriangles,'triangle','#ff0000',5),
    tris(sellTriangles,'path://M0 0 L10 0 L5 10 Z','#00ff20',5),
    arrows(upArrows,UP,'#f00010'),arrows(downArrows,DN,'#00cc00'),
    textSeries(0,highLabels,'#ff5050','top',1,FONT,13),
    textSeries(0,lowLabels,'#33e6e6','bottom',1,FONT,13),
    guide(1,macdGuides,1),histBars,histEdge,cyanFill,zeroLine,
    lineS(deaLine,'#ffff70',6),lineS(difLine,'#ffffff',6),stick,
    textSeries(1,upMarks.map(m=>[m[0],m[1],'上']),'#ffff00','inside',0,CJK,13),
    textSeries(1,downMarks.map(m=>[m[0],m[1],'下']),'#ffff00','inside',0,CJK,13),
    textSeries(1,divergenceNote,'#00ff00','inside',0,CJK,12)
  ]
};
const chart=echarts.init(document.getElementById('c'),null,{renderer:'canvas',width:1781,height:905,devicePixelRatio:1});
chart.setOption(option);
</script></body></html>
